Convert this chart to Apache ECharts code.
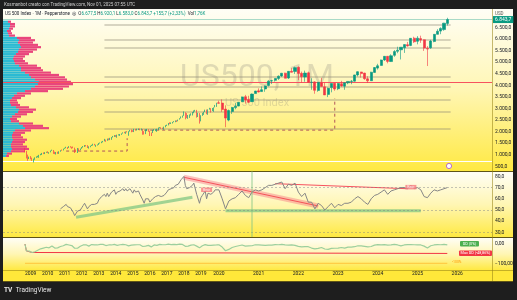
<!DOCTYPE html>
<html>
<head>
<meta charset="utf-8">
<script src="https://cdn.jsdelivr.net/npm/echarts@6/dist/echarts.min.js"></script>
<style>
  html, body { margin: 0; padding: 0; background: #1e1e1e; }
  #chart { width: 517px; height: 300px; }
</style>
</head>
<body>
<div id="chart"></div>
<script>
// US 500 Index, monthly, Sep 2008 -> Oct 2025 : [open, close, low, high]
const ohlcStart = '2008-09'
const ohlc = [
  [1283,1166,1106,1303],[1164,969,840,1167],[969,896,741,1007],[889,903,815,919],
  [903,826,805,943],[826,735,735,876],[730,798,667,832],[797,873,783,888],[873,919,867,930],[919,919,888,956],[919,987,870,996],[987,1021,978,1040],[1020,1057,992,1080],[1055,1036,1029,1101],[1036,1096,1030,1113],[1096,1115,1086,1130],
  [1116,1074,1071,1150],[1073,1104,1045,1112],[1105,1169,1105,1181],[1171,1187,1170,1220],[1188,1089,1040,1206],[1088,1031,1028,1132],[1031,1102,1011,1120],[1108,1049,1040,1130],[1050,1141,1040,1150],[1143,1183,1131,1196],[1183,1181,1173,1227],[1186,1258,1186,1263],
  [1257,1286,1257,1302],[1289,1327,1282,1344],[1328,1326,1250,1332],[1329,1364,1295,1370],[1365,1345,1311,1371],[1345,1321,1259,1346],[1320,1292,1282,1356],[1292,1219,1075,1308],[1220,1131,1115,1230],[1131,1253,1075,1293],[1252,1247,1159,1277],[1247,1258,1202,1269],
  [1258,1312,1258,1334],[1312,1366,1311,1378],[1366,1408,1340,1419],[1408,1398,1358,1422],[1398,1310,1292,1415],[1310,1362,1267,1364],[1362,1379,1325,1392],[1380,1407,1377,1427],[1406,1441,1396,1475],[1441,1412,1403,1470],[1412,1416,1343,1434],[1416,1426,1398,1448],
  [1426,1498,1426,1509],[1498,1515,1485,1530],[1515,1569,1501,1570],[1570,1598,1536,1598],[1598,1631,1581,1687],[1631,1606,1560,1654],[1609,1686,1605,1698],[1689,1633,1627,1710],[1636,1682,1633,1730],[1682,1757,1646,1765],[1758,1806,1747,1813],[1806,1848,1772,1849],
  [1846,1783,1771,1851],[1782,1859,1738,1868],[1857,1872,1834,1884],[1873,1884,1815,1897],[1884,1924,1860,1924],[1924,1960,1915,1968],[1962,1931,1930,1991],[1929,2003,1905,2006],[2004,1972,1965,2019],[1972,2018,1821,2018],[2019,2068,2001,2075],[2066,2059,1973,2093],
  [2059,1995,1988,2064],[1997,2105,1981,2120],[2105,2068,2040,2117],[2064,2086,2048,2126],[2088,2107,2068,2135],[2108,2063,2057,2130],[2067,2104,2045,2133],[2105,1972,1867,2113],[1970,1920,1872,2021],[1919,2079,1893,2094],[2080,2080,2020,2117],[2082,2044,1993,2104],
  [2038,1940,1812,2038],[1937,1932,1810,1963],[1937,2060,1937,2072],[2057,2065,2034,2111],[2068,2097,2025,2104],[2094,2099,1992,2121],[2100,2174,2075,2178],[2170,2171,2148,2194],[2171,2168,2120,2188],[2164,2126,2114,2170],[2129,2199,2084,2214],[2201,2239,2188,2278],
  [2251,2279,2246,2301],[2285,2364,2271,2371],[2381,2363,2322,2401],[2362,2384,2329,2398],[2388,2412,2353,2419],[2415,2423,2405,2454],[2431,2470,2407,2484],[2477,2472,2417,2491],[2474,2519,2446,2520],[2521,2575,2520,2582],[2583,2648,2566,2657],[2645,2674,2605,2695],
  [2683,2824,2682,2873],[2816,2714,2533,2836],[2715,2641,2586,2801],[2633,2648,2553,2718],[2643,2705,2595,2743],[2718,2718,2691,2791],[2704,2816,2699,2848],[2821,2902,2795,2916],[2897,2914,2864,2941],[2926,2712,2604,2940],[2717,2760,2631,2815],[2790,2507,2347,2800],
  [2477,2704,2444,2708],[2703,2784,2682,2813],[2798,2834,2722,2860],[2848,2946,2848,2949],[2952,2752,2751,2954],[2751,2942,2728,2964],[2971,2980,2952,3028],[2980,2926,2822,3014],[2910,2977,2892,3022],[2983,3038,2856,3050],[3051,3141,3050,3154],[3144,3231,3070,3248],
  [3244,3226,3215,3338],[3235,2954,2855,3394],[2974,2585,2192,3136],[2499,2912,2447,2954],[2870,3044,2767,3068],[3038,3100,2966,3233],[3105,3271,3101,3280],[3289,3500,3280,3514],[3508,3363,3209,3588],[3386,3270,3234,3549],[3296,3622,3280,3646],[3645,3756,3633,3760],
  [3764,3714,3695,3870],[3732,3811,3725,3950],[3842,3973,3723,3994],[3992,4181,3955,4218],[4192,4204,4056,4238],[4217,4298,4164,4302],[4300,4395,4233,4429],[4406,4523,4367,4537],[4528,4308,4306,4546],[4317,4605,4279,4608],[4610,4567,4560,4743],[4602,4766,4495,4808],
  [4778,4516,4222,4819],[4519,4374,4115,4595],[4363,4530,4157,4637],[4540,4132,4124,4594],[4130,4132,3810,4307],[4150,3785,3637,4177],[3781,4130,3723,4141],[4112,3955,3955,4325],[3937,3586,3585,4120],[3609,3872,3492,3905],[3902,4080,3698,4080],[4087,3840,3765,4101],
  [3854,4077,3795,4095],[4070,3970,3943,4195],[3964,4109,3809,4110],[4110,4169,4049,4170],[4167,4180,4048,4232],[4181,4450,4166,4458],[4450,4589,4385,4607],[4578,4508,4335,4584],[4530,4288,4238,4541],[4284,4194,4104,4393],[4201,4568,4187,4587],[4559,4770,4547,4793],
  [4745,4846,4682,4931],[4862,5096,4853,5111],[5098,5254,5056,5265],[5257,5036,4953,5264],[5029,5278,5012,5341],[5297,5460,5234,5524],[5471,5522,5390,5669],[5538,5648,5120,5651],[5624,5762,5402,5768],[5758,5705,5674,5878],[5723,6032,5696,6045],[6040,5882,5833,6100],
  [5903,6041,5774,6128],[6021,5955,5837,6147],[5969,5612,5489,5987],[5597,5569,4835,5696],[5625,5912,5578,5968],[5897,6205,5862,6215],[6204,6339,6201,6428],[6345,6460,6212,6508],[6410,6688,6360,6700],[6677.5,6843.7,6583.0,6920.1]
]
const lastPrice = 6843.7

// horizontal levels drawn on the price pane
const grayLevels = [6608, 5959, 5614, 4360, 3928, 3367, 2848, 2113]
const levelFrom = '2013-05'
const levelTo = '2025-11'
const redLevel = 4131
const whiteLevel = 730
// dashed recovery paths: [month, price]
const recovery1 = [['2011-02', 1160], ['2014-09', 1160], ['2014-09', 1715]]
const recovery2 = [['2015-09', 2066], ['2022-12', 2066], ['2022-12', 3440]]

// visible range volume profile (100 pt bins from 900 to 6700)
const profileFirstBin = 900
const profileUp = [3,4,8,9,8,8,9,10,9,9,10,12,22,20,16,8,7,9,12,15,16,13,8,7,7,9,11,14,22,28,32,35,36,32,28,26,22,18,18,16,12,11,10,11,13,15,16,18,17,15,16,14,6,5,4,6,7,7,5]
const profileDown = [3,5,14,17,16,12,13,14,11,9,12,16,24,20,14,8,7,9,12,15,17,13,9,8,7,9,11,14,23,32,34,35,32,32,34,30,26,22,20,18,13,11,10,11,13,15,18,20,18,15,16,14,6,4,4,4,5,5,3]

// RSI, monthly, Oct 2010 -> Oct 2025
const rsiStart = '2010-10'
const rsi = [
  51,50,53,
  54,55,53,54,52,50,48,45,44,49,49,50,
  52,54,56,55,51,53,54,55,56,55,55,56,
  59,60,62,63,64,62,65,62,63,66,67,68,
  64,66,67,67,68,69,67,69,67,68,69,68,
  65,68,66,66,67,64,63,59,56,60,61,60,
  57,57,60,61,62,61,63,63,62,61,63,64,
  66,68,68,69,70,70,72,72,73,75,77,77,
  80,72,69,69,70,70,72,74,74,64,65,56,
  61,63,64,67,60,65,66,64,65,66,68,69,
  68,60,51,58,60,61,64,67,63,61,66,68,
  67,68,70,72,72,73,74,75,69,73,72,74,
  66,62,65,57,57,51,56,54,50,53,56,52,
  55,54,56,56,57,60,62,60,57,55,60,63,
  64,66,68,64,67,68,69,70,70,69,72,69,
  70,68,62,61,65,68,67,68,69,70
]
const rsiLevels = [70, 50, 30]
const bullLine1 = [['2011-09', 43.5], ['2018-07', 61.3]]
const bearLine1 = [['2018-01', 79.2], ['2022-07', 53.6]]
const bearLine2 = [['2021-06', 73.5], ['2024-10', 69]]
const bullLine2 = [['2020-03', 49.4], ['2025-02', 49.4]]
const bearTags = [['2019-05', 68.1], ['2024-11', 70.4]]
const rsiMarker = '2020-11'

// drawdown (%), monthly, Sep 2008 -> Oct 2025
const ddStart = '2008-09'
const drawdown = [
  0,-36,-43,-37,
  -38,-44,-49,-40,-33,-32,-33,-25,-24,-21,-21,-17,
  -18,-20,-15,-10,-20,-21,-22,-20,-20,-13,-10,-9,
  -4,-2,-7,-5,-4,-8,-6,-22,-19,-22,-15,-12,
  -8,-5,-2,-4,-9,-11,-7,-3,-5,-5,-9,-5,
  -3,-2,-2,-2,-6,-8,-5,-5,-5,-5,-1,-2,
  -5,-7,-2,-4,-2,-2,-3,-4,-3,-10,-1,-6,
  -5,-5,-4,-4,-3,-4,-5,-13,-12,-11,-5,-7,
  -15,-15,-9,-5,-6,-7,-3,-2,-3,-4,-6,-4,
  -1.5,-1,-3,-3,-2,-2,-2,-3,-2,-1,-1,-2,
  -2,-12,-10,-11,-10,-6,-6,-4,-2,-11,-11,-20,
  -17,-9,-7,-3,-7,-7,-3,-7,-5,-6,-1,-5,
  -4,-16,-35,-28,-18,-13,-9,-5,-11,-10,-9,-4,
  -5,-6,-7,-6,-6,-3,-4,-2,-5,-6,-5,-7,
  -12,-15,-14,-14,-21,-25,-23,-18,-26,-28,-23,-22,
  -21,-18,-21,-16,-16,-14,-9,-10,-12,-15,-13,-6,
  -3,-5,-3,-6,-5,-2,-5,-10,-5,-3,-3,-4,
  -5,-5,-11,-21,-9,-5,-3,-4,-2,-5
]
const maxDdMonths = ['2008-09', '2008-10', '2008-11', '2009-02', '2009-03', '2025-10']
const maxDdValues = [0, -36, -43, -44, -48.9, -48.9]
const ddFloor = -100

// ---- time slots: a month is 3 slots before 2020, 7 slots from 2020 on ----
const months = []
for (let y = 2007; y <= 2026; y++) {
  for (let m = 1; m <= 12; m++) {
    const k = y + '-' + String(m).padStart(2, '0')
    if (k >= '2007-06' && k <= '2026-11') months.push(k)
  }
}
const slots = []
const slotOf = {}
months.forEach(k => {
  const n = k < '2020-01' ? 3 : 7
  for (let i = 0; i < n; i++) {
    if (i === Math.floor(n / 2)) { slotOf[k] = slots.length; slots.push(k) }
    else slots.push(k + '_' + i)
  }
})
const monthAt = (start, i) => months[months.indexOf(start) + i]
const pt = p => [slotOf[p[0]], p[1]]

const early = [], late = []
ohlc.forEach((c, i) => {
  const m = monthAt(ohlcStart, i)
  ;(m < '2020-01' ? early : late).push([slotOf[m], c[0], c[1], c[2], c[3]])
})
const rsiData = rsi.map((v, i) => [slotOf[monthAt(rsiStart, i)], v])
const ddData = drawdown.map((v, i) => [slotOf[monthAt(ddStart, i)], v])
const maxDdData = maxDdMonths.map((m, i) => [slotOf[m], maxDdValues[i]])

const bins = []
for (let b = 0; b < 7300; b += 100) bins.push(String(b))
const binIdx = (profileFirstBin / 100)
const upFull = bins.map((b, i) => (i >= binIdx && i - binIdx < profileUp.length) ? profileUp[i - binIdx] : 0)
const downFull = bins.map((b, i) => (i >= binIdx && i - binIdx < profileDown.length) ? profileDown[i - binIdx] : 0)

function itNum(v, d) {
  const s = Math.abs(v).toFixed(d).split('.')
  s[0] = s[0].replace(/\B(?=(\d{3})+(?!\d))/g, '.')
  return (v < 0 ? '\u2212' : '') + s.join(',')
}

const FONT = 'Roboto, "Liberation Sans", sans-serif'
const UP = '#089981', DOWN = '#f23645'
const paneFill = () => new echarts.graphic.LinearGradient(0, 0, 0, 1, [
  { offset: 0, color: '#fffef6' }, { offset: 0.5, color: '#fff6b4' }, { offset: 1, color: '#ffe942' }
])
const sep = 'rgba(150,130,20,0.55)'

const slotAxis = (gridIndex, showLabels) => ({
  type: 'category', gridIndex, data: slots, boundaryGap: true,
  axisLine: { show: false }, axisTick: { show: false }, splitLine: { show: false },
  axisLabel: showLabels ? {
    show: true, fontSize: 5, color: '#131722', fontFamily: FONT, margin: 2,
    interval: (i, v) => /^\d{4}-01$/.test(v) && v >= '2009',
    formatter: v => v.slice(0, 4)
  } : { show: false }
})

const chart = echarts.init(document.getElementById('chart'), null, { renderer: 'canvas' })
const option = {
  backgroundColor: '#1e1e1e',
  animation: false,
  grid: [
    { left: 3, right: 25, top: 9, bottom: 122.1 },
    { left: 3, width: 100, top: 9, bottom: 122.1 },
    { left: 3, right: 25, top: 165.2, bottom: 56.4 },
    { left: 3, right: 25, top: 234.35, bottom: 27.05 },
    { left: 3, right: 25, top: 268, height: 1 }
  ],
  xAxis: [
    slotAxis(0, false),
    { type: 'value', gridIndex: 1, min: 0, max: 100, show: false },
    slotAxis(2, false),
    slotAxis(3, false),
    slotAxis(4, true)
  ],
  yAxis: [
    { type: 'value', gridIndex: 0, min: 0, max: 7300, interval: 500, position: 'right',
      axisLine: { show: false }, axisTick: { show: false }, splitLine: { show: false },
      axisLabel: { fontSize: 5, color: '#131722', fontFamily: FONT, margin: 3,
        formatter: v => (v === 0 || v >= 7000) ? '' : itNum(v, 1) } },
    { type: 'category', gridIndex: 1, data: bins, show: false },
    { type: 'value', gridIndex: 2, min: 20, max: 90, interval: 10, position: 'right',
      axisLine: { show: false }, axisTick: { show: false }, splitLine: { show: false },
      axisLabel: { fontSize: 5, color: '#131722', fontFamily: FONT, margin: 3,
        formatter: v => (v < 30 || v > 80) ? '' : itNum(v, 1) } },
    { type: 'value', gridIndex: 3, min: -150, max: 50, interval: 50, position: 'right',
      axisLine: { show: false }, axisTick: { show: false }, splitLine: { show: false },
      axisLabel: { fontSize: 5, color: '#131722', fontFamily: FONT, margin: 3,
        formatter: v => (v === 0 || v === -100) ? itNum(v, 2) : '' } },
    { type: 'value', gridIndex: 4, show: false }
  ],
  series: [
    // volume profile
    { type: 'bar', xAxisIndex: 1, yAxisIndex: 1, stack: 'vp', data: upFull, barCategoryGap: '6%',
      itemStyle: { color: '#2bbad3' }, z: 1, silent: true },
    { type: 'bar', xAxisIndex: 1, yAxisIndex: 1, stack: 'vp', data: downFull, barCategoryGap: '6%',
      itemStyle: { color: '#e9457c' }, z: 1, silent: true },
    // price levels
    { type: 'line', xAxisIndex: 0, yAxisIndex: 0, data: [], z: 3, silent: true,
      markLine: {
        symbol: 'none', silent: true, animation: false,
        label: { show: false },
        data: [
          ...grayLevels.map(v => [
            { coord: [slotOf[levelFrom], v], lineStyle: { color: 'rgba(140,134,115,0.45)', width: 1.5, type: 'solid' } },
            { coord: [slotOf[levelTo], v] }
          ]),
          { yAxis: redLevel, lineStyle: { color: '#f7525f', width: 1, type: 'solid' } },
          { yAxis: whiteLevel, lineStyle: { color: '#ffffff', width: 1, type: 'solid' } },
          { yAxis: lastPrice, lineStyle: { color: 'rgba(8,153,129,0.35)', width: 1, type: 'solid' },
            label: { show: true, position: 'end', distance: 1, formatter: itNum(lastPrice, 1),
              backgroundColor: UP, color: '#fff', fontSize: 5, fontFamily: FONT, padding: [1, 2, 1, 2] } }
        ]
      } },
    { type: 'line', xAxisIndex: 0, yAxisIndex: 0, data: recovery1.map(pt), symbol: 'none', z: 4,
      lineStyle: { color: '#b0555a', width: 1, type: [3, 3] }, silent: true },
    { type: 'line', xAxisIndex: 0, yAxisIndex: 0, data: recovery2.map(pt), symbol: 'none', z: 4,
      lineStyle: { color: '#b0555a', width: 1, type: [3, 3] }, silent: true },
    // candles
    { type: 'candlestick', xAxisIndex: 0, yAxisIndex: 0, data: early, encode: { x: 0, y: [1, 2, 3, 4] },
      barWidth: 1.2, z: 5,
      itemStyle: { color: UP, color0: DOWN, borderColor: UP, borderColor0: DOWN, borderWidth: 0.7 } },
    { type: 'candlestick', xAxisIndex: 0, yAxisIndex: 0, data: late, encode: { x: 0, y: [1, 2, 3, 4] },
      barWidth: 2.6, z: 5,
      itemStyle: { color: UP, color0: DOWN, borderColor: UP, borderColor0: DOWN, borderWidth: 0.6 } },
    // RSI
    { type: 'line', xAxisIndex: 2, yAxisIndex: 2, data: [], silent: true,
      markLine: { symbol: 'none', silent: true, label: { show: false },
        data: [
          ...rsiLevels.map(v => ({ yAxis: v, lineStyle: { color: 'rgba(120,123,134,0.55)', width: 0.8, type: [2, 2] } })),
          [{ coord: [slotOf[rsiMarker], 26], lineStyle: { color: 'rgba(129,199,132,0.55)', width: 1.5, type: 'solid' } },
           { coord: [slotOf[rsiMarker], 85] }]
        ] } },
    { type: 'line', xAxisIndex: 2, yAxisIndex: 2, data: bullLine1.map(pt), symbol: 'none', silent: true,
      lineStyle: { color: 'rgba(129,199,132,0.75)', width: 3 } },
    { type: 'line', xAxisIndex: 2, yAxisIndex: 2, data: bullLine2.map(pt), symbol: 'none', silent: true,
      lineStyle: { color: 'rgba(129,199,132,0.75)', width: 3 } },
    { type: 'line', xAxisIndex: 2, yAxisIndex: 2, data: bearLine1.map(pt), symbol: 'none', silent: true,
      lineStyle: { color: 'rgba(247,120,130,0.45)', width: 5 } },
    { type: 'line', xAxisIndex: 2, yAxisIndex: 2, data: bearLine1.map(pt), symbol: 'none', silent: true,
      lineStyle: { color: '#f23645', width: 0.8 } },
    { type: 'line', xAxisIndex: 2, yAxisIndex: 2, data: bearLine2.map(pt), symbol: 'none', silent: true,
      lineStyle: { color: '#f7525f', width: 1 } },
    { type: 'line', xAxisIndex: 2, yAxisIndex: 2, data: rsiData, symbol: 'none', z: 4,
      lineStyle: { color: '#868686', width: 1 } },
    { type: 'scatter', xAxisIndex: 2, yAxisIndex: 2, data: bearTags.map(pt), symbol: 'rect',
      symbolSize: [11, 4.5], z: 6, itemStyle: { color: '#f77c80' },
      label: { show: true, position: 'inside', formatter: 'Bear', fontSize: 3.5, color: '#fff', fontFamily: FONT } },
    // drawdown
    { type: 'line', xAxisIndex: 3, yAxisIndex: 3,
      data: [[slotOf[ddStart], ddFloor], [slotOf['2025-10'], ddFloor]], symbol: 'none', silent: true,
      lineStyle: { color: 'rgba(255,152,0,0.6)', width: 0.8 } },
    { type: 'line', xAxisIndex: 3, yAxisIndex: 3, data: maxDdData, symbol: 'none', silent: true,
      lineStyle: { color: '#f23645', width: 1 } },
    { type: 'line', xAxisIndex: 3, yAxisIndex: 3, data: ddData, symbol: 'none', silent: true,
      lineStyle: { color: '#9ccf9e', width: 1.2 } }
  ],
  graphic: [
    // pane backgrounds
    { type: 'rect', z: -10, shape: { x: 3, y: 9, width: 510, height: 162 }, style: { fill: paneFill() } },
    { type: 'rect', z: -10, shape: { x: 3, y: 172, width: 510, height: 65 }, style: { fill: paneFill() } },
    { type: 'rect', z: -10, shape: { x: 3, y: 238, width: 510, height: 32 }, style: { fill: paneFill() } },
    { type: 'rect', z: -10, shape: { x: 3, y: 270, width: 510, height: 11 }, style: { fill: '#ffe83a' } },
    { type: 'line', z: 20, shape: { x1: 3, y1: 171.5, x2: 513, y2: 171.5 }, style: { stroke: sep, lineWidth: 1 } },
    { type: 'line', z: 20, shape: { x1: 3, y1: 237.5, x2: 513, y2: 237.5 }, style: { stroke: sep, lineWidth: 1 } },
    { type: 'line', z: 20, shape: { x1: 3, y1: 270.5, x2: 513, y2: 270.5 }, style: { stroke: sep, lineWidth: 1 } },
    { type: 'line', z: 20, shape: { x1: 3, y1: 281.5, x2: 513, y2: 281.5 }, style: { stroke: sep, lineWidth: 1 } },
    { type: 'line', z: 20, shape: { x1: 492.5, y1: 9, x2: 492.5, y2: 281 }, style: { stroke: sep, lineWidth: 1 } },
    // watermark
    { type: 'text', z: 1, x: 257, y: 78, style: { text: 'US500, 1M', font: '32px ' + FONT, fill: 'rgba(110,110,110,0.22)', align: 'center', verticalAlign: 'middle' } },
    { type: 'text', z: 1, x: 257, y: 103, style: { text: 'US 500 Index', font: '11px ' + FONT, fill: 'rgba(110,110,110,0.22)', align: 'center', verticalAlign: 'middle' } },
    // top bar and legend
    { type: 'text', z: 30, x: 4, y: 4.5, style: { text: 'Kosmanbot creato con TradingView.com, Nov 01, 2025 07:55 UTC', font: '4.5px ' + FONT, fill: '#cfcfcf', verticalAlign: 'middle' } },
    { type: 'text', z: 30, x: 5, y: 13.5, style: {
      text: '{a|US 500 Index · 1M · Pepperstone  ◎  O}{v|6.677,5}{a| H}{v|6.920,1}{a| L}{v|6.583,0}{a| C}{v|6.843,7 +155,7 (+2,33%)}{a|  Vol}{v|1,76K}',
      verticalAlign: 'middle',
      rich: { a: { font: '4.5px ' + FONT, fill: '#131722' }, v: { font: '4.5px ' + FONT, fill: UP } } } },
    { type: 'text', z: 30, x: 495, y: 13.5, style: { text: 'USD', font: '4.5px ' + FONT, fill: '#555', verticalAlign: 'middle' } },
    { type: 'circle', z: 30, shape: { cx: 449, cy: 166, r: 2.6 }, style: { fill: '#fff', stroke: '#a64dd1', lineWidth: 0.8 } },
    // drawdown tags
    { type: 'rect', z: 30, shape: { x: 460, y: 241, width: 19, height: 5.5, r: 1 }, style: { fill: '#4caf50' } },
    { type: 'text', z: 31, x: 469.5, y: 243.8, style: { text: 'DD (0%)', font: '3.8px ' + FONT, fill: '#fff', align: 'center', verticalAlign: 'middle' } },
    { type: 'rect', z: 30, shape: { x: 459, y: 250.5, width: 33, height: 5.5, r: 1 }, style: { fill: '#f23645' } },
    { type: 'text', z: 31, x: 475.5, y: 253.3, style: { text: 'Max DD (-48,86%)', font: '3.8px ' + FONT, fill: '#fff', align: 'center', verticalAlign: 'middle' } },
    { type: 'text', z: 31, x: 452, y: 262.5, style: { text: '-100%', font: '3.5px ' + FONT, fill: '#ff9800', verticalAlign: 'middle' } },
    // bottom logo
    { type: 'text', z: 30, x: 4, y: 290.5, style: { text: '{b|TV} {a|TradingView}', verticalAlign: 'middle',
      rich: { b: { font: 'bold 6.5px ' + FONT, fill: '#e6e6e6' }, a: { font: '6.5px ' + FONT, fill: '#e6e6e6' } } } }
  ]
}
chart.setOption(option)
</script>
</body>
</html>
